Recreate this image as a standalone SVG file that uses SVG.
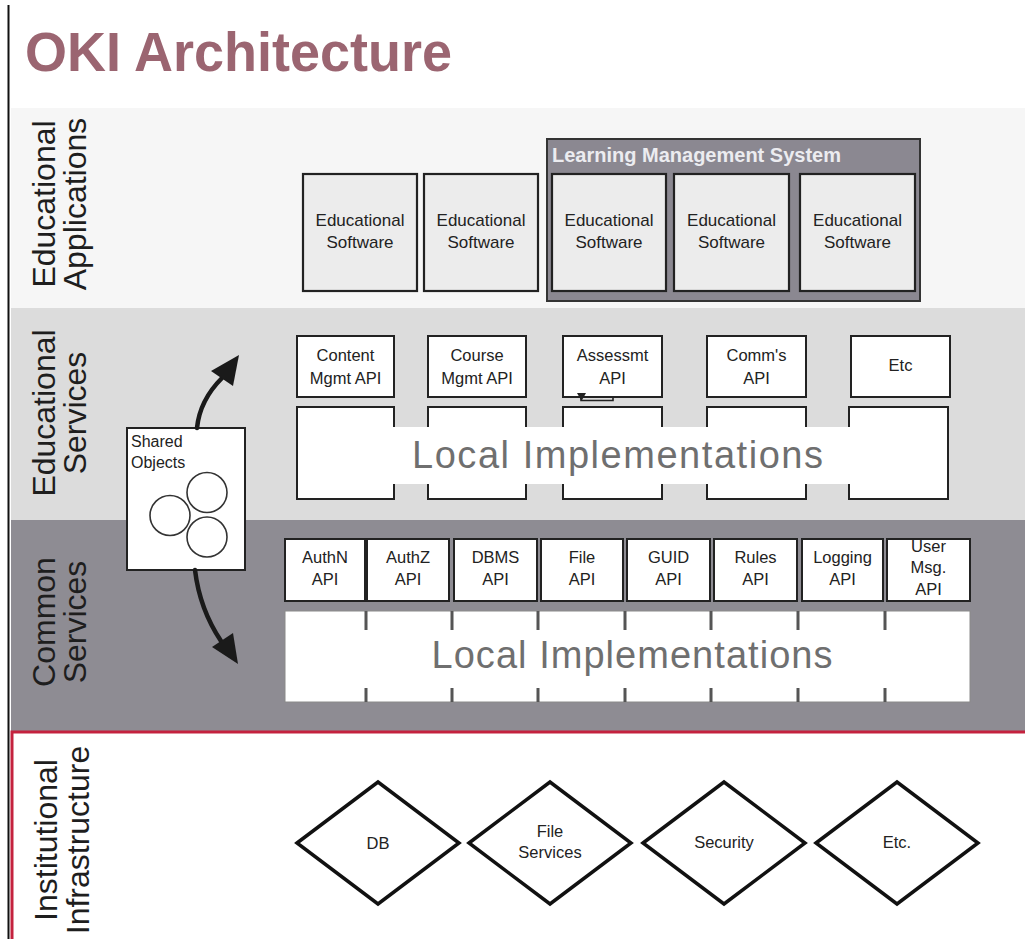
<svg xmlns="http://www.w3.org/2000/svg" width="1025" height="939" viewBox="0 0 1025 939">
<defs>
<style>
.t{font-family:"Liberation Sans",Arial,Helvetica,sans-serif;fill:#222}
.sm{font-size:16.5px;text-anchor:middle}
.es{font-size:17px;text-anchor:middle}
.lbl{font-family:"Liberation Sans",Arial,Helvetica,sans-serif;font-size:32px;text-anchor:middle;fill:#1e1e1e}
.box{fill:#fff;stroke:#222;stroke-width:2}
.edu{fill:#ececec;stroke:#222;stroke-width:2.2}
.li{font-family:"Liberation Sans",Arial,Helvetica,sans-serif;font-size:38px;fill:#6f6f6f;text-anchor:middle}
.dia{fill:#fff;stroke:#111;stroke-width:3.5}
.tick{stroke:#555;stroke-width:3}
.arrow{fill:none;stroke:#1a1a1a;stroke-width:4.5;stroke-linecap:round}
.head{fill:#1a1a1a}
</style>
</defs>
<rect x="0" y="0" width="1025" height="939" fill="#fff"/>
<g id="bands">
<rect x="11" y="108" width="1014" height="200" fill="#f6f6f6"/>
<rect x="11" y="308" width="1014" height="212" fill="#dcdcdc"/>
<rect x="11" y="520" width="1014" height="212" fill="#8e8c93"/>
<rect x="12" y="732" width="1020" height="210" fill="#fff" stroke="#c4223e" stroke-width="3"/>
<line x1="8.5" y1="5" x2="8.5" y2="939" stroke="#111" stroke-width="2"/>
</g>
<text id="title" x="25" y="71" font-family="Liberation Sans,Arial,sans-serif" font-size="56" font-weight="bold" fill="#9b6571" textLength="427" lengthAdjust="spacingAndGlyphs">OKI Architecture</text>
<g id="label-apps">
<text class="lbl" transform="translate(55,204) rotate(-90)">Educational</text>
<text class="lbl" transform="translate(86,204) rotate(-90)">Applications</text>
</g>
<g id="label-eduservices">
<text class="lbl" transform="translate(55,413) rotate(-90)">Educational</text>
<text class="lbl" transform="translate(86,413) rotate(-90)">Services</text>
</g>
<g id="label-common">
<text class="lbl" transform="translate(55,622) rotate(-90)">Common</text>
<text class="lbl" transform="translate(86,622) rotate(-90)">Services</text>
</g>
<g id="label-infra">
<text class="lbl" transform="translate(57,840) rotate(-90)">Institutional</text>
<text class="lbl" transform="translate(89,840) rotate(-90)">Infrastructure</text>
</g>

<g id="edusw1"><rect class="edu" x="303" y="174" width="114" height="117"/><text class="t es" x="360" y="226">Educational</text><text class="t es" x="360" y="248">Software</text></g>
<g id="edusw2"><rect class="edu" x="424" y="174" width="114" height="117"/><text class="t es" x="481" y="226">Educational</text><text class="t es" x="481" y="248">Software</text></g>
<g id="lms">
<rect x="547" y="139" width="373" height="162" fill="#8b8891" stroke="#333" stroke-width="2"/>
<text x="552" y="162" font-family="Liberation Sans,Arial,sans-serif" font-size="20" font-weight="bold" fill="#ececf0">Learning Management System</text>
</g>
<g id="edusw3"><rect class="edu" x="552" y="174" width="114" height="117"/><text class="t es" x="609" y="226">Educational</text><text class="t es" x="609" y="248">Software</text></g>
<g id="edusw4"><rect class="edu" x="674" y="174" width="115" height="117"/><text class="t es" x="731.5" y="226">Educational</text><text class="t es" x="731.5" y="248">Software</text></g>
<g id="edusw5"><rect class="edu" x="800" y="174" width="115" height="117"/><text class="t es" x="857.5" y="226">Educational</text><text class="t es" x="857.5" y="248">Software</text></g>

<g id="api-content"><rect class="box" x="297" y="336" width="97" height="61"/><text class="t sm" x="345.5" y="361">Content</text><text class="t sm" x="345.5" y="384">Mgmt API</text></g>
<g id="api-course"><rect class="box" x="428" y="336" width="98" height="61"/><text class="t sm" x="477" y="361">Course</text><text class="t sm" x="477" y="384">Mgmt API</text></g>
<g id="api-assess"><rect class="box" x="563" y="336" width="99" height="61"/><text class="t sm" x="612.5" y="361">Assessmt</text><text class="t sm" x="612.5" y="384">API</text>
<path d="M581,396 V400.5 H613 V397.5" fill="none" stroke="#222" stroke-width="1.6"/><polygon points="577,393 586,393 581.5,401" fill="#222"/></g>
<g id="api-comm"><rect class="box" x="707" y="336" width="99" height="61"/><text class="t sm" x="756.5" y="361">Comm's</text><text class="t sm" x="756.5" y="384">API</text></g>
<g id="api-etc"><rect class="box" x="851" y="336" width="99" height="61"/><text class="t sm" x="900.5" y="371">Etc</text></g>

<g id="edu-impl">
<rect class="box" x="297" y="407" width="97" height="92"/>
<rect class="box" x="428" y="407" width="98" height="92"/>
<rect class="box" x="563" y="407" width="99" height="92"/>
<rect class="box" x="707" y="407" width="99" height="92"/>
<rect class="box" x="849" y="407" width="99" height="92"/>
<rect x="299" y="427" width="648" height="57" fill="#fff"/>
<text class="li" x="617.5" y="468" textLength="411" lengthAdjust="spacing">Local Implementations</text>
</g>

<g id="shared-objects">
<rect class="box" x="127" y="428" width="118" height="142"/>
<text class="t" x="131" y="447" font-size="16">Shared</text>
<text class="t" x="131" y="468" font-size="16">Objects</text>
<circle cx="170" cy="515.5" r="20" fill="#fff" stroke="#333" stroke-width="1.6"/>
<circle cx="207" cy="492.5" r="20" fill="#fff" stroke="#333" stroke-width="1.6"/>
<circle cx="207" cy="537" r="20" fill="#fff" stroke="#333" stroke-width="1.6"/>
</g>

<g id="api-authn"><rect class="box" x="285" y="539" width="80" height="62"/><text class="t sm" x="325" y="563">AuthN</text><text class="t sm" x="325" y="585">API</text></g>
<g id="api-authz"><rect class="box" x="367" y="539" width="82" height="62"/><text class="t sm" x="408" y="563">AuthZ</text><text class="t sm" x="408" y="585">API</text></g>
<g id="api-dbms"><rect class="box" x="454" y="539" width="83" height="62"/><text class="t sm" x="495.5" y="563">DBMS</text><text class="t sm" x="495.5" y="585">API</text></g>
<g id="api-file"><rect class="box" x="541" y="539" width="82" height="62"/><text class="t sm" x="582" y="563">File</text><text class="t sm" x="582" y="585">API</text></g>
<g id="api-guid"><rect class="box" x="627" y="539" width="83" height="62"/><text class="t sm" x="668.5" y="563">GUID</text><text class="t sm" x="668.5" y="585">API</text></g>
<g id="api-rules"><rect class="box" x="714" y="539" width="83" height="62"/><text class="t sm" x="755.5" y="563">Rules</text><text class="t sm" x="755.5" y="585">API</text></g>
<g id="api-logging"><rect class="box" x="802" y="539" width="81" height="62"/><text class="t sm" x="842.5" y="563">Logging</text><text class="t sm" x="842.5" y="585">API</text></g>
<g id="api-usermsg"><rect class="box" x="887" y="539" width="83" height="62"/><text class="t sm" x="928.5" y="552">User</text><text class="t sm" x="928.5" y="573">Msg.</text><text class="t sm" x="928.5" y="595">API</text></g>

<g id="common-impl">
<rect x="285" y="611" width="685" height="91" fill="#fff" stroke="#8a8a8a" stroke-width="1"/>
<path class="tick" d="M366,611V630M452,611V630M538,611V630M625,611V630M711,611V630M798,611V630M885,611V630M366,688V702M452,688V702M538,688V702M625,688V702M711,688V702M798,688V702M885,688V702"/>
<text class="li" x="632" y="668" textLength="401" lengthAdjust="spacing">Local Implementations</text>
</g>

<g id="infra-db"><polygon class="dia" points="297,843 378,782 459,843 378,904"/><text class="t sm" x="378" y="849">DB</text></g>
<g id="infra-file"><polygon class="dia" points="469,843 550,782 631,843 550,904"/><text class="t sm" x="550" y="837">File</text><text class="t sm" x="550" y="858">Services</text></g>
<g id="infra-security"><polygon class="dia" points="643,843 724,782 805,843 724,904"/><text class="t sm" x="724" y="848">Security</text></g>
<g id="infra-etc"><polygon class="dia" points="816,843 897,782 978,843 897,904"/><text class="t sm" x="897" y="848">Etc.</text></g>

<g id="connectors">
<path class="arrow" d="M197,428 C199,408 208,392 222,378"/>
<polygon class="head" points="239,355 211,371 233,386"/>
<path class="arrow" d="M195,570 C198,595 207,620 221,641"/>
<polygon class="head" points="238,664 212,647 233,633"/>
</g>
</svg>
